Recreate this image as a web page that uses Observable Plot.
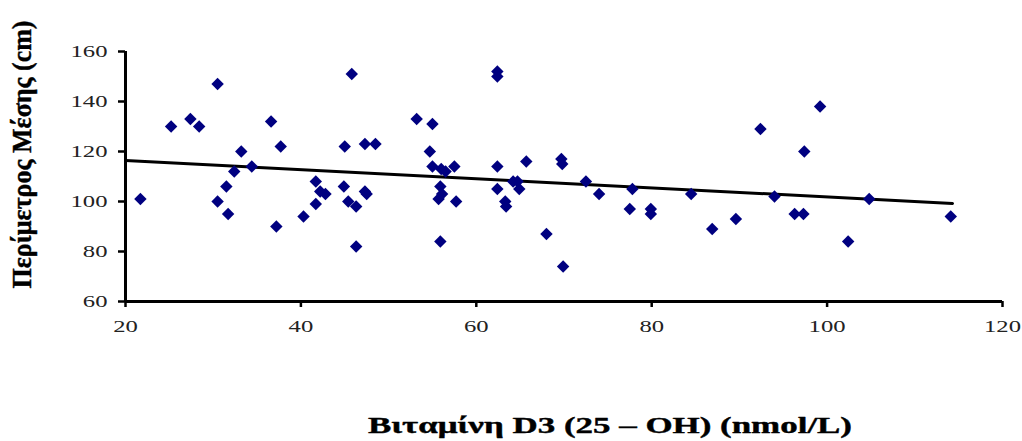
<!DOCTYPE html>
<html><head><meta charset="utf-8">
<script src="https://cdn.jsdelivr.net/npm/d3@7"></script>
<script src="https://cdn.jsdelivr.net/npm/@observablehq/plot@0.6"></script>
<style>body{margin:0;background:#fff}</style>
</head><body><div id="chart"></div>
<script>
const vitD = [21.7,25.2,27.4,28.4,30.5,30.5,31.5,31.7,32.4,33.2,34.4,36.6,37.2,37.7,40.3,41.7,41.7,42.2,42.8,44.9,45.0,45.4,46.3,45.8,46.3,47.3,48.5,47.3,47.5,53.2,55.0,54.7,55.0,56.0,56.5,57.5,55.9,56.1,55.7,57.7,55.9,62.4,62.4,62.4,62.4,63.3,63.4,64.2,64.7,64.9,65.7,68.0,69.7,69.8,69.9,72.5,74.0,77.5,77.8,79.9,79.9,84.5,86.9,89.6,92.4,94.0,96.3,97.3,97.4,99.2,102.4,104.8,114.1];
const waist = [101,130,133,130,147,100,106,95,112,120,114,132,90,122,94,108,99,104,103,106,122,100,98,151,82,123,123,104,103,133,131,120,114,113,112,114,106,103,101,100,84,152,150,114,105,100,98,108,108,105,116,87,117,115,74,108,103,97,105,97,95,103,89,93,129,102,95,95,120,138,84,101,94];
const trendX = [20, 114.3];
const trendY = [116.4, 99.2];
const xTicks = [20,40,60,80,100,120];
const yTicks = [60,80,100,120,140,160];
const xTitle = ["Βιταμίνη D3 (25 – OH) (nmol/L)"];
const yTitle = ["Περίμετρος Μέσης (cm)"];

const points = vitD.map((v,i)=>({x:v,y:waist[i]}));
const trend = trendX.map((v,i)=>({x:v,y:trendY[i]}));

const chart = Plot.plot({
  width:1022, height:441, marginLeft:125, marginRight:20, marginTop:51, marginBottom:140,
  style:{fontFamily:"'Liberation Serif', serif", background:"#fff", color:"#000"},
  x:{domain:[20,120]}, y:{domain:[60,160]},
  marks:[
    Plot.axisY({ticks:yTicks, tickSize:7, tickPadding:11, fontSize:17, label:null, strokeWidth:2.5, fill:"#222"}),
    Plot.axisX({ticks:xTicks, tickSize:6, tickPadding:12, fontSize:17, label:null, strokeWidth:2.5, fill:"#222"}),
    Plot.ruleX([20],{strokeWidth:3}),
    Plot.ruleY([60],{strokeWidth:3}),
    Plot.line(trend,{x:"x",y:"y",stroke:"#000",strokeWidth:3}),
    Plot.dot(points,{x:"x",y:"y",symbol:"diamond2",r:5.6,fill:"#000080"}),
    Plot.text(xTitle,{text:d=>d, frameAnchor:"bottom", textAnchor:"middle", dx:46, dy:124, lineAnchor:"middle", fontSize:23, fontWeight:"bold", fill:"#000", stroke:"#000", strokeWidth:0.4}),
    Plot.text(yTitle,{text:d=>d, frameAnchor:"left", textAnchor:"middle", rotate:-90, dx:-103, dy:-22, lineAnchor:"middle", fontSize:27, fontWeight:"bold", fill:"#000", stroke:"#000", strokeWidth:0.4})
  ]
});
document.getElementById("chart").append(chart);

// stretch texts horizontally like the reference
d3.select(chart).selectAll('g[aria-label="x-axis tick label"] text, g[aria-label="y-axis tick label"] text').each(function(){
  const L = this.getComputedTextLength();
  this.setAttribute("textLength", L*1.45);
  this.setAttribute("lengthAdjust","spacingAndGlyphs");
});
const titles = d3.select(chart).selectAll('g[aria-label="text"] text').nodes();
if (titles[0]) { titles[0].setAttribute("textLength", 484); titles[0].setAttribute("lengthAdjust","spacingAndGlyphs"); }
if (titles[1]) { titles[1].setAttribute("textLength", 268); titles[1].setAttribute("lengthAdjust","spacingAndGlyphs"); }
</script></body></html>
